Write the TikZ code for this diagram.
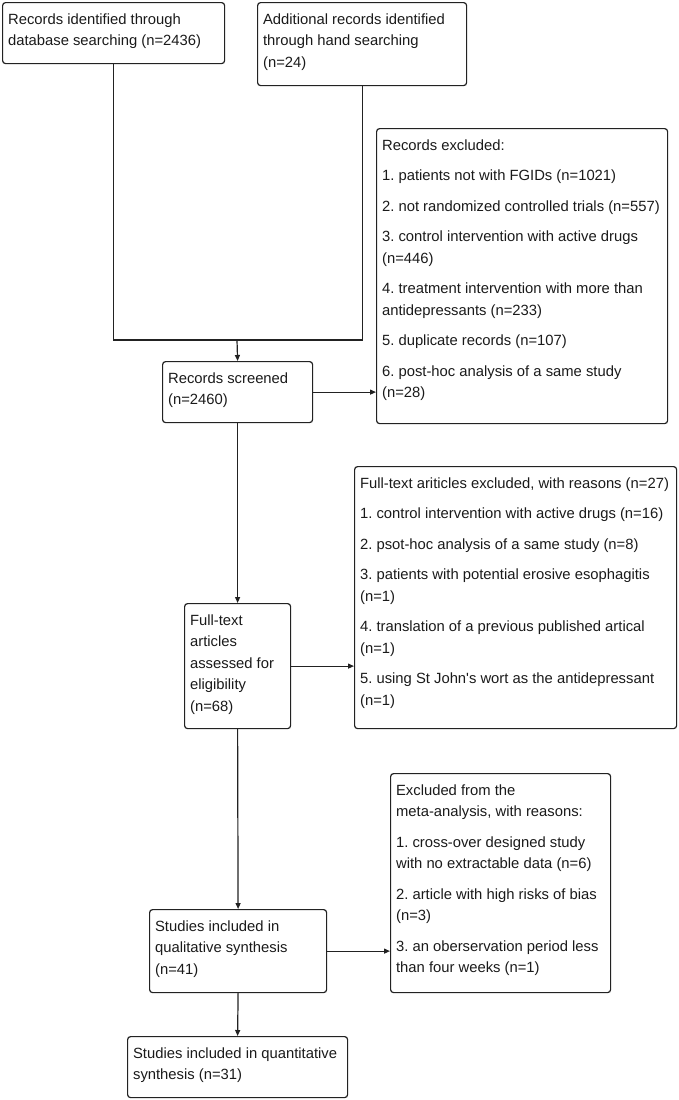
\documentclass[tikz,border=0pt]{standalone}
\usepackage{fontspec}
\setmainfont{Liberation Sans}
\usetikzlibrary{arrows.meta}
\definecolor{lncol}{HTML}{222222}
\definecolor{txcol}{HTML}{1A1A1A}
\newcommand{\bxt}[3]{\parbox[c][\dimexpr#2pt-13pt\relax][t]{\dimexpr#1pt-11pt\relax}{\raggedright\frenchspacing\setlength{\parskip}{9pt}\strut #3}}
\begin{document}
\begin{tikzpicture}[x=1pt,y=-1pt,
  box/.style={draw=lncol, line width=1.2pt, rounded corners=3pt, inner xsep=5.5pt, inner ysep=6.5pt,
    anchor=north west, font=\fontsize{14.8}{21.5}\selectfont, text=txcol},
  conn/.style={draw=lncol, line width=1.2pt},
  arr/.style={conn, -{Triangle[length=6pt,width=5pt]}}]
\useasboundingbox (0,0) rectangle (679,1100);

\node[box] (b1) at (2,2) {\bxt{222}{61}{Records identified through\\database searching (n=2436)}};
\node[box] (b2) at (257,2) {\bxt{209}{83}{Additional records identified\\through hand searching\\(n=24)}};
\node[box] (b3) at (162,361) {\bxt{150}{61}{Records screened\\(n=2460)}};
\node[box] (e1) at (376,128) {\bxt{291}{295}{Records excluded:\par
1. patients not with FGIDs (n=1021)\par
2. not randomized controlled trials (n=557)\par
3. control intervention with active drugs\\(n=446)\par
4. treatment intervention with more than\\antidepressants (n=233)\par
5. duplicate records (n=107)\par
6. post-hoc analysis of a same study\\(n=28)}};
\node[box] (b4) at (184,603) {\bxt{106}{125}{Full-text\\articles\\assessed for\\eligibility\\(n=68)}};
\node[box] (e2) at (354,466) {\bxt{322}{262}{Full-text ariticles excluded, with reasons (n=27)\par
1. control intervention with active drugs (n=16)\par
2. psot-hoc analysis of a same study (n=8)\par
3. patients with potential erosive esophagitis\\(n=1)\par
4. translation of a previous published artical\\(n=1)\par
5. using St John\textquotesingle s wort as the antidepressant\\(n=1)}};
\node[box] (b5) at (149,909) {\bxt{177}{83}{Studies included in\\qualitative synthesis\\(n=41)}};
\node[box] (e3) at (390,773) {\bxt{220}{219}{Excluded from the\\meta-analysis, with reasons:\par
1. cross-over designed study\\with no extractable data (n=6)\par
2. article with high risks of bias\\(n=3)\par
3. an oberservation period less\\than four weeks (n=1)}};
\node[box] (b6) at (127,1036) {\bxt{220}{61}{Studies included in quantitative\\synthesis (n=31)}};

\coordinate (j) at (237,340);
\draw[conn] (b1.south) -- (b1.south |- j) -- (b2.south |- j) -- (b2.south);
\draw[arr] (j) -- (b3.north);
\draw[arr] (b3.east) -- (b3.east -| e1.west);
\draw[arr] (b3.south) -- (b4.north);
\draw[arr] (b4.east) -- (b4.east -| e2.west);
\draw[arr] (b4.south) -- (b5.north);
\draw[arr] (b5.east) -- (b5.east -| e3.west);
\draw[arr] (b5.south) -- (b6.north);
\end{tikzpicture}
\end{document}
